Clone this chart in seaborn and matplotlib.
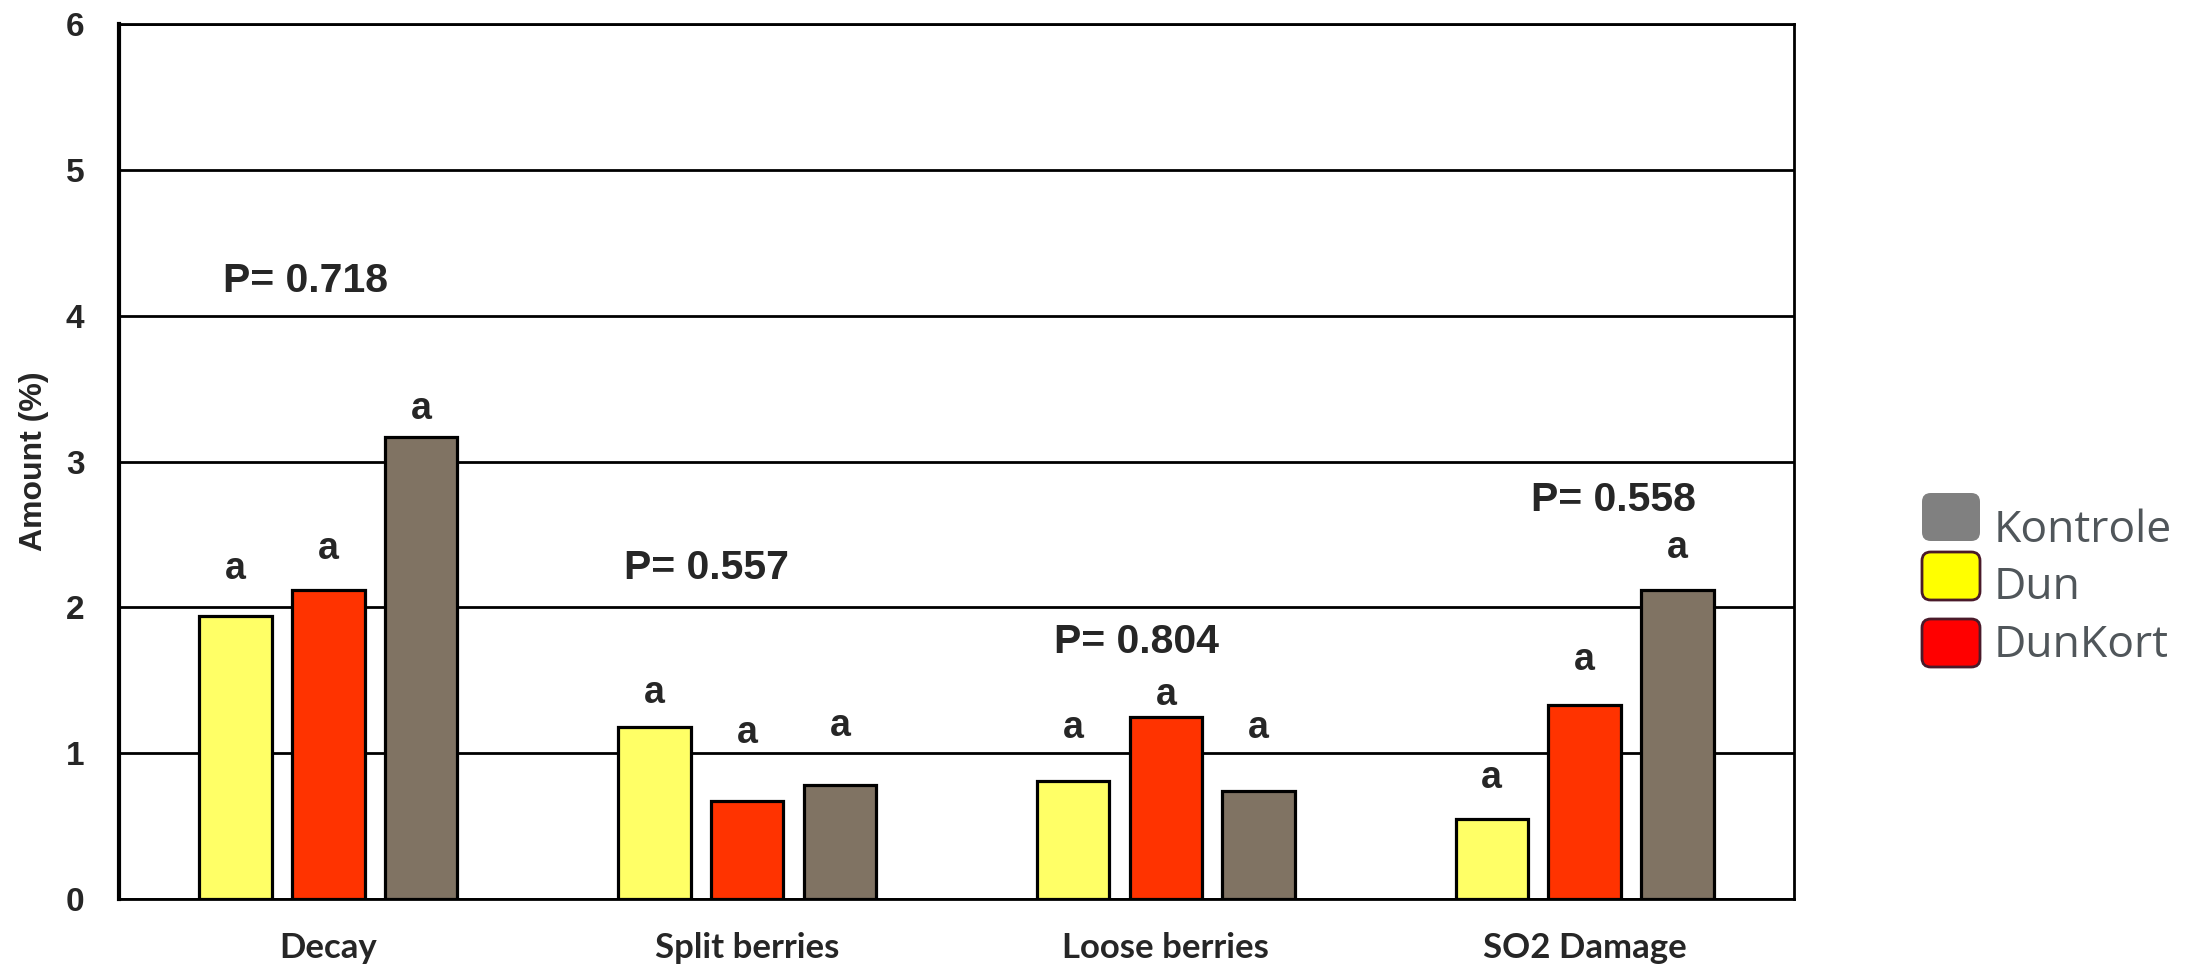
import matplotlib
matplotlib.use("Agg")
import matplotlib.pyplot as plt
from matplotlib.patches import FancyBboxPatch
import seaborn as sns
import pandas as pd

categories = ["Decay", "Split berries", "Loose berries", "SO2 Damage"]
treatments = ["Dun", "DunKort", "Kontrole"]
dun = [1.94, 1.18, 0.81, 0.55]
dunkort = [2.12, 0.67, 1.25, 1.33]
kontrole = [3.17, 0.78, 0.74, 2.12]
letters = [["a", "a", "a"], ["a", "a", "a"], ["a", "a", "a"], ["a", "a", "a"]]
letter_y = [[2.26, 2.40, 3.36], [1.41, 1.14, 1.19], [1.17, 1.40, 1.17], [0.83, 1.64, 2.41]]
p_labels = ["P= 0.718", "P= 0.557", "P= 0.804", "P= 0.558"]
p_y = [4.24, 2.27, 1.76, 2.74]
y_ticks = [0, 1, 2, 3, 4, 5, 6]
legend_labels = ["Kontrole", "Dun", "DunKort"]

bar_colors = {"Dun": "#ffff66", "DunKort": "#ff3300", "Kontrole": "#807363"}

rows = []
for i, c in enumerate(categories):
    for t, vals in zip(treatments, [dun, dunkort, kontrole]):
        rows.append({"category": c, "treatment": t, "value": vals[i]})
df = pd.DataFrame(rows)

sns.set_style("white")
plt.rcParams["font.family"] = ["Liberation Sans", "DejaVu Sans"]

fig = plt.figure(figsize=(21.89, 9.67), dpi=100)
ax = fig.add_axes([0.0544, 0.0703, 0.7651, 0.9047])

sns.barplot(data=df, x="category", y="value", hue="treatment",
            order=categories, hue_order=treatments, palette=bar_colors,
            width=0.665, gap=0.22, edgecolor="black", linewidth=2.3,
            saturation=1, legend=False, ax=ax, zorder=3)

ax.set_xlim(-0.5, 3.5)
ax.set_ylim(0, 6)
ax.set_yticks(y_ticks)
ax.set_yticklabels([str(v) for v in y_ticks], fontsize=24, fontweight="bold")
ax.set_xticks(range(len(categories)))
ax.set_xticklabels(categories, fontsize=25, fontweight="bold", family=["Lato", "DejaVu Sans"])
ax.tick_params(axis="both", length=0)
ax.tick_params(axis="y", pad=25)
ax.tick_params(axis="x", pad=24)
ax.set_xlabel("")
ax.set_ylabel("Amount (%)", fontsize=23, fontweight="bold", va="center")
ax.yaxis.set_label_coords(-0.0507, 0.5)
ax.yaxis.grid(True, color="black", linewidth=2, zorder=0)
ax.set_axisbelow(True)
for s in ax.spines.values():
    s.set_color("black")
    s.set_linewidth(2)
    s.set_visible(True)
ax.spines["left"].set_linewidth(3)

# letters above bars
n = len(treatments)
pitch = 0.665 / n
for i in range(len(categories)):
    for j in range(n):
        xc = i - 0.665 / 2 + pitch * (j + 0.5)
        ax.text(xc, letter_y[i][j], letters[i][j], ha="center", va="center",
                fontsize=27, fontweight="bold", zorder=5)

# P values
p_x = [-0.252, 0.707, 1.733, 2.873]
for i, lab in enumerate(p_labels):
    ax.text(p_x[i], p_y[i], lab, ha="left", va="center", fontsize=29.5,
            fontweight="bold", zorder=5)

# manual legend
leg_colors = ["#808080", "#ffff00", "#ff0000"]
leg_edges = ["none", "#4a1a2a", "#4a1a2a"]
W, H = fig.get_size_inches() * fig.dpi
patch_top = [493, 552, 619]
text_base = [542, 599, 657]
for k, lab in enumerate(legend_labels):
    x0, y0 = 1922, patch_top[k]
    w, h = 58, 48
    p = FancyBboxPatch((x0 / W, 1 - (y0 + h) / H), w / W, h / H,
                       boxstyle="round,pad=0,rounding_size=0.004",
                       transform=fig.transFigure, facecolor=leg_colors[k],
                       edgecolor=leg_edges[k], linewidth=2, mutation_aspect=W / H)
    fig.patches.append(p)
    fig.text(1994 / W, 1 - text_base[k] / H, lab, ha="left", va="baseline",
             fontsize=32, color="#50565a", family=["Open Sans", "DejaVu Sans"])

fig.savefig("out.png", dpi=100)
